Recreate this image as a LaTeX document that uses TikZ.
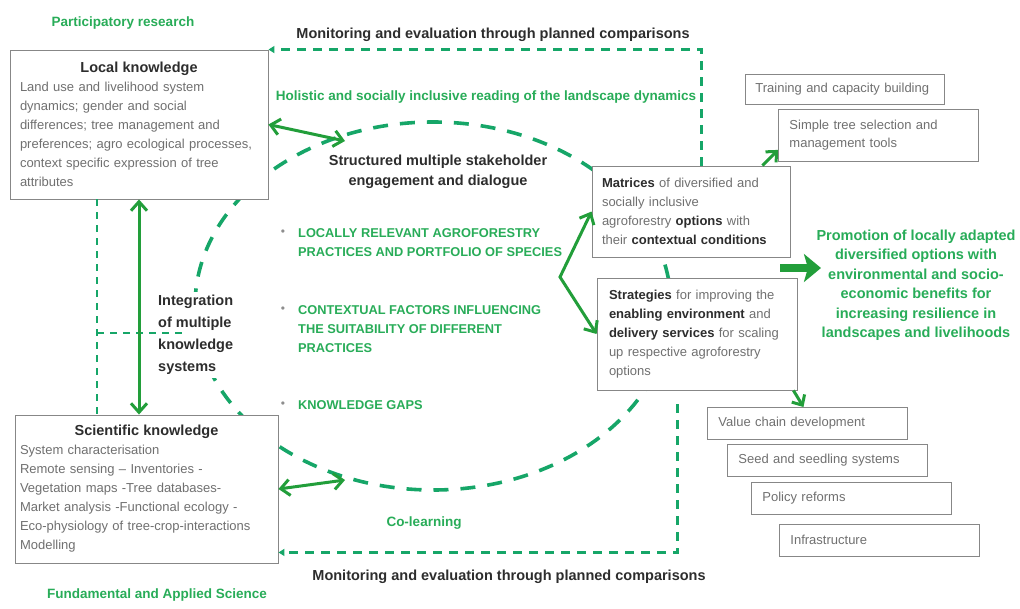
\documentclass[tikz,border=0pt]{standalone}
\usepackage{fontspec}
\setmainfont{Liberation Sans}
\usepackage{xcolor}
\usetikzlibrary{arrows.meta,positioning,calc}

\definecolor{arrowgreen}{RGB}{34,158,58}
\definecolor{dashgreen}{RGB}{22,166,104}
\definecolor{labelgreen}{RGB}{40,172,88}
\definecolor{bodygray}{RGB}{112,112,112}
\definecolor{headgray}{RGB}{45,45,45}
\definecolor{framegray}{RGB}{135,135,135}

\newcommand{\fsz}[2]{\fontsize{#1}{#2}\selectfont}
\newcommand{\kw}[1]{\textcolor{headgray}{\bfseries #1}}

\begin{document}
\begin{tikzpicture}[
        x=1pt, y=-1pt,
        font=\fsz{13}{19},
        knowbox/.style={draw=framegray,line width=0.9pt,fill=white,text=bodygray,align=left,inner ysep=0pt},
        optbox/.style={draw=framegray,line width=0.9pt,fill=white,text=bodygray,align=left,anchor=north west,text width=178pt,inner xsep=11pt,minimum height=32pt},
        glabel/.style={text=labelgreen,font=\bfseries\fsz{13.5}{17}},
        dlabel/.style={text=headgray,font=\bfseries\fsz{14.5}{20}},
        caps/.style={text=labelgreen,font=\bfseries\fsz{12.8}{19},align=left,anchor=west,inner sep=0pt},
        dot/.style={text=bodygray!80,font=\fsz{12}{12},inner sep=0pt},
        link/.style={arrowgreen,line width=3pt,line join=miter},
        twoway/.style={link,{Straight Barb[length=9pt,width=16pt]}-{Straight Barb[length=9pt,width=16pt]}},
        oneway/.style={link,-{Straight Barb[length=8pt,width=15pt]}},
        bigarrow/.style={arrowgreen,line width=8pt,-{Stealth[length=17pt,width=28pt,inset=4pt]}},
        monitor/.style={dashgreen,line width=2.2pt,dash pattern=on 9pt off 7pt,-{Triangle[length=6pt,width=7pt]}},
        ring/.style={dashgreen,line width=3.6pt,dash pattern=on 15pt off 12pt},
        guide/.style={dashgreen,line width=1.6pt,dash pattern=on 7pt off 6pt}
    ]
    \useasboundingbox (0,0) rectangle (1020,608);

    \draw[ring] (433,306) ellipse [x radius=238pt, y radius=184pt];

    \node[knowbox, text width=238pt, inner xsep=10pt, minimum height=149pt] (local) at (139,124.5)
        {{\centering\kw{\fsz{14.5}{19}Local knowledge}\par}
         Land use and livelihood system\\ dynamics; gender and social\\ differences; tree management and\\
         preferences; agro ecological processes,\\ context specific expression of tree\\ attributes};
    \node[knowbox, text width=253pt, inner xsep=5pt, minimum height=148pt] (science) at (146.5,489)
        {{\centering\kw{\fsz{14.5}{19}Scientific knowledge}\par}
         System characterisation\\ Remote sensing – Inventories -\\ Vegetation maps -Tree databases-\\
         Market analysis -Functional ecology -\\ Eco-physiology of tree-crop-interactions\\ Modelling};
    \node[knowbox, text width=178pt, inner xsep=10pt, minimum height=91pt] (matrices) at (691,211.5)
        {\kw{Matrices} of diversified and\\ socially inclusive\\ agroforestry \kw{options} with\\ their \kw{contextual conditions}};
    \node[knowbox, text width=176pt, inner xsep=12pt, minimum height=112pt] (strategies) at (697,334)
        {\kw{Strategies} for improving the\\ \kw{enabling environment} and\\ \kw{delivery services} for scaling\\ up respective agroforestry\\ options};

    \node[optbox, text width=179pt, inner xsep=10pt, minimum height=30pt] (training) at (745,74) {Training and capacity building};
    \node[optbox, font=\fsz{13}{18}, minimum height=52pt] (simple) at (778,109) {Simple tree selection and\\ management tools};
    \node[optbox] (value) at (707,407) {Value chain development};
    \node[optbox, below right=4pt and 20pt of value.south west] (seed) {Seed and seedling systems};
    \node[optbox, below right=5pt and 24pt of seed.south west] (policy) {Policy reforms};
    \node[optbox, below right=9pt and 28pt of policy.south west] (infra) {Infrastructure};

    \node[glabel] (part) at (123,23) {Participatory research};
    \node[glabel] (fund) at (157,595) {Fundamental and Applied Science};
    \node[glabel] (holistic) at (486,97) {Holistic and socially inclusive reading of the landscape dynamics};
    \node[glabel] (colearn) at (424,523) {Co-learning};
    \node[dlabel] (montop) at (493,35) {Monitoring and evaluation through planned comparisons};
    \node[dlabel] (monbot) at (509,577) {Monitoring and evaluation through planned comparisons};
    \node[dlabel, align=center] (engage) at (438,172) {Structured multiple stakeholder\\ engagement and dialogue};
    \node[dlabel, font=\bfseries\fsz{14.5}{22}, align=left, anchor=west, fill=white, inner sep=3pt] (integ) at (155,335)
        {Integration\\ of multiple\\ knowledge\\ systems};

    \node[caps] (p1) at (298,243) {LOCALLY RELEVANT AGROFORESTRY\\ PRACTICES AND PORTFOLIO OF SPECIES};
    \node[caps] (p2) at (298,329) {CONTEXTUAL FACTORS INFLUENCING\\ THE SUITABILITY OF DIFFERENT\\ PRACTICES};
    \node[caps] (p3) at (298,405) {KNOWLEDGE GAPS};
    \node[dot] (b1) at (283,233) {\textbullet};
    \node[dot] (b2) at (283,310) {\textbullet};
    \node[dot] (b3) at (283,405) {\textbullet};

    \node[glabel, font=\bfseries\fsz{14.5}{19.5}, align=center] (promo) at (916,285)
        {Promotion of locally adapted\\ diversified options with\\ environmental and socio-\\ economic benefits for\\ increasing resilience in\\ landscapes and livelihoods};

    \coordinate (lk) at (97,333);
    \coordinate (lkend) at (182,333);
    \coordinate (hs) at (345,141);
    \coordinate (cl) at (345,480);
    \coordinate (f) at (560,277);
    \coordinate (g) at (780,268);

    \draw[guide] (local.south -| lk) -- (science.north -| lk);
    \draw[guide] (lk) -- (lkend);

    \draw[monitor] ($(matrices.north west)+(110,0)$) |- (local.north east);
    \draw[monitor, shorten <=14pt] ($(strategies.south west)+(81,0)$) |- ($(science.south east)+(0,-11)$);

    \draw[twoway] (local.south) -- (local.south |- science.north);
    \draw[twoway] (local.east) -- (hs);
    \draw[twoway] (science.east) -- (cl);
    \draw[twoway] (matrices.west) -- (f) -- (strategies.west);
    \draw[oneway] ($(matrices.north east)+(-28,0)$) -- ($(simple.south west)+(0,-12)$);
    \draw[oneway] ($(strategies.south east)+(-4,0)$) -- ($(value.north)+(-4,0)$);
    \draw[bigarrow] (g) -- ($(g -| promo.west)+(8,0)$);
\end{tikzpicture}
\end{document}
